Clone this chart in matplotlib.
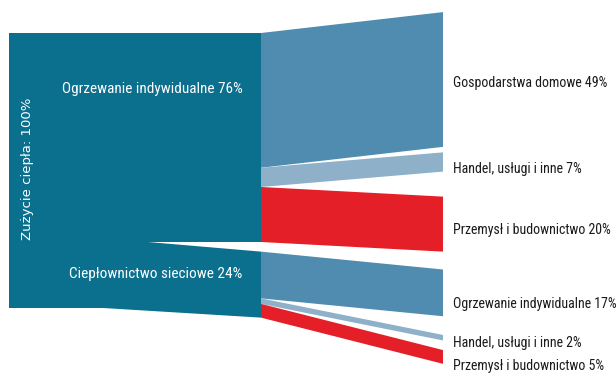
import matplotlib
matplotlib.use("Agg")
import matplotlib.pyplot as plt
from matplotlib.patches import Polygon

# data (percent of total heat use)
total_label = "Zużycie ciepła: 100%"
mid_names = ["Ogrzewanie indywidualne", "Ciepłownictwo sieciowe"]
mid_values = [76, 24]
out_names = ["Gospodarstwa domowe", "Handel, usługi i inne", "Przemysł i budownictwo",
             "Ogrzewanie indywidualne", "Handel, usługi i inne", "Przemysł i budownictwo"]
out_values = [49, 7, 20, 17, 2, 5]
out_source = [0, 0, 0, 1, 1, 1]
out_kind = [0, 1, 2, 0, 1, 2]

# layout (x in pixels, y in percent units)
W, H = 616, 373
px_per_pct = 2.75
y_top_px = 33
x_left, x_mid, x_right, x_label = 9, 261, 443, 453
x_wedge, x_bottom_kink = 148, 103
gap_mid = 3.5
out_tops = [-7.6, 43.4, 59.5, 86.0, 109.8, 115.3]
out_label_y = [18, 49.5, 71.5, 98.5, 112.7, 121]

c_node = "#0b6f8e"
c_kind = ["#4f8cb0", "#8eb0c8", "#e41f27"]

fig = plt.figure(figsize=(W / 100, H / 100), dpi=100)
ax = fig.add_axes([0, 0, 1, 1])
ax.set_xlim(0, W)
ax.set_ylim((H - y_top_px) / px_per_pct, -y_top_px / px_per_pct)
ax.axis("off")

narrow = ["Roboto Condensed", "Liberation Sans", "DejaVu Sans"]

# left block: total node + the two middle nodes
split = mid_values[0]
c_top = split + gap_mid
c_bot = c_top + mid_values[1]
total = sum(mid_values)
left_poly = [(x_left, 0), (x_mid, 0), (x_mid, split), (x_wedge, split),
             (x_mid, c_top), (x_mid, c_bot), (x_bottom_kink, total), (x_left, total)]
ax.add_patch(Polygon(left_poly, closed=True, facecolor=c_node, edgecolor="none"))

# flows to the right
starts = [0, c_top]
for v, s, k, t in zip(out_values, out_source, out_kind, out_tops):
    y0 = starts[s]
    starts[s] += v
    poly = [(x_mid, y0), (x_right, t), (x_right, t + v), (x_mid, y0 + v)]
    ax.add_patch(Polygon(poly, closed=True, facecolor=c_kind[k], edgecolor="none"))

for name, v, y in zip(out_names, out_values, out_label_y):
    ax.text(x_label, y, f"{name} {v}%", family=narrow, fontsize=10,
            color="#1a1a1a", va="center", ha="left")

ax.text(152, 20.5, f"{mid_names[0]} {mid_values[0]}%", family=narrow, fontsize=11,
        color="white", va="center", ha="center")
ax.text(156, 87.5, f"{mid_names[1]} {mid_values[1]}%", family=narrow, fontsize=11,
        color="white", va="center", ha="center")
ax.text(27, 49.5, total_label, family="DejaVu Sans", fontsize=9.5, color="white",
        rotation=90, va="center", ha="center")

fig.savefig("out.png", dpi=100)
